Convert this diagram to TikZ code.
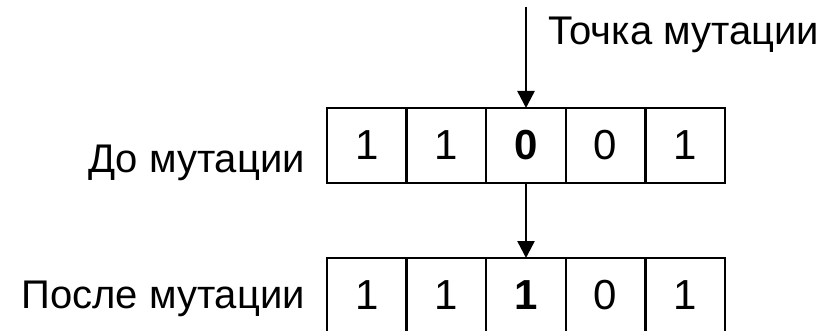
\documentclass[tikz,border=0pt]{standalone}
\usepackage{fontspec}
\setmainfont{Liberation Sans}
\usetikzlibrary{arrows.meta}

\tikzset{
  cell/.style={draw, line width=2.5pt, minimum width=79.6pt, minimum height=75pt, inner sep=0pt, outer sep=0pt, font=\fontsize{42}{48}\selectfont},
  lbl/.style={inner sep=0pt, font=\fontsize{40}{48}\selectfont},
  mutarrow/.style={line width=2.5pt, -{Triangle[width=17pt,length=17pt]}}
}

\begin{document}
\begin{tikzpicture}[x=1pt, y=-1pt]
\useasboundingbox (0,0) rectangle (829,331);

% Before mutation
\foreach \i/\bit in {1/1, 2/1, 3/\bfseries 0, 4/0, 5/1} {
    \node[cell] (b\i) at (327+79.6*\i-39.8, 145.5) {\bit};
}

% After mutation
\foreach \i/\bit in {1/1, 2/1, 3/\bfseries 1, 4/0, 5/1} {
    \node[cell] (a\i) at (327+79.6*\i-39.8, 295.5) {\bit};
}

% Labels
\node[lbl, anchor=base east] (before) at (305,172) {До мутации};
\node[lbl, anchor=base east] (after) at (305,308) {После мутации};
\node[lbl, anchor=base west] (point) at (548,45) {Точка мутации};

% Arrows
\coordinate (mpt) at (526,7);
\draw[mutarrow] (mpt) -- (b3.north);
\draw[mutarrow] (b3.south) -- (a3.north);
\end{tikzpicture}
\end{document}
